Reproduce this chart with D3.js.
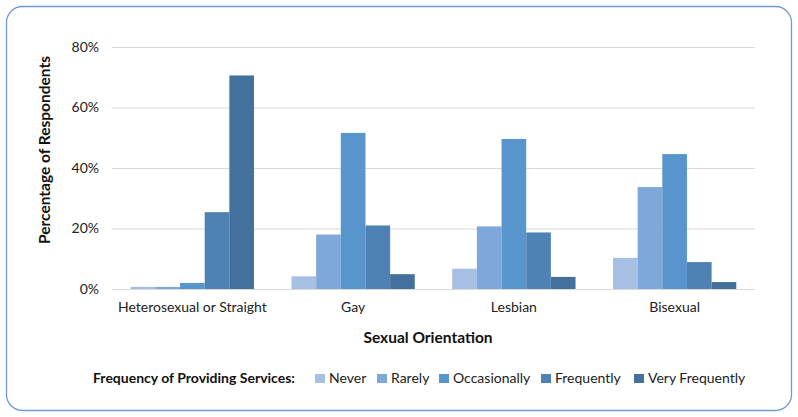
<!DOCTYPE html>
<html>
<head>
<meta charset="utf-8">
<script src="https://cdn.jsdelivr.net/npm/d3@7"></script>
<style>
  body { margin: 0; background: #fff; }
  svg { display: block; font-family: Lato, "Noto Sans", sans-serif; }
</style>
</head>
<body>
<div id="chart"></div>
<script>
const orientations = ["Heterosexual or Straight", "Gay", "Lesbian", "Bisexual"];
const frequencies = ["Never", "Rarely", "Occasionally", "Frequently", "Very Frequently"];
const colors = ["#a5c0e3", "#7ea8d9", "#5895cd", "#4f82b4", "#44709e"];

// percentage of respondents, one array per frequency, in orientation order
const never        = [0.7, 4.2, 6.7, 10.3];
const rarely       = [0.7, 18.0, 20.7, 33.7];
const occasionally = [2.0, 51.6, 49.6, 44.6];
const frequently   = [25.4, 21.0, 18.7, 8.9];
const veryFreq     = [70.6, 4.9, 4.0, 2.3];

const yTicks = [0, 20, 40, 60, 80];

const seriesValues = [never, rarely, occasionally, frequently, veryFreq];

const width = 798, height = 417;
const margin = { top: 47, right: 43, bottom: 128, left: 112 };
const innerW = width - margin.left - margin.right;
const innerH = height - margin.top - margin.bottom;

const svg = d3.select("#chart")
    .append("svg")
    .attr("width", width)
    .attr("height", height);

// outer rounded frame
svg.append("rect")
    .attr("x", 6.5)
    .attr("y", 6.5)
    .attr("width", 785)
    .attr("height", 404)
    .attr("rx", 16)
    .attr("fill", "#fff")
    .attr("stroke", "#6f9bd3")
    .attr("stroke-width", 1.3);

const g = svg.append("g")
    .attr("transform", `translate(${margin.left},${margin.top})`);

const x0 = d3.scaleBand()
    .domain(orientations)
    .range([0, innerW])
    .paddingInner(0.233)
    .paddingOuter(0.1165);

const x1 = d3.scaleBand()
    .domain(frequencies)
    .range([0, x0.bandwidth()]);

const y = d3.scaleLinear()
    .domain([0, 80])
    .range([innerH, 0]);

const color = d3.scaleOrdinal()
    .domain(frequencies)
    .range(colors);

// gridlines
g.append("g")
    .selectAll("line")
    .data(yTicks)
    .enter()
    .append("line")
    .attr("x1", 0)
    .attr("x2", innerW)
    .attr("y1", d => y(d) + 0.5)
    .attr("y2", d => y(d) + 0.5)
    .attr("stroke", "#d9d9d9")
    .attr("stroke-width", 1);

// y axis labels
const yAxis = g.append("g")
    .call(d3.axisLeft(y).tickValues(yTicks).tickFormat(d => d + "%").tickSize(0).tickPadding(13));
yAxis.select(".domain").remove();
yAxis.selectAll("text")
    .style("font-family", "Lato, 'Noto Sans', sans-serif")
    .style("font-size", "14px")
    .attr("fill", "#222");

// bars
const rows = orientations.map((o, i) => {
    const row = { orientation: o };
    frequencies.forEach((f, j) => { row[f] = seriesValues[j][i]; });
    return row;
});

g.append("g")
    .selectAll("g")
    .data(rows)
    .enter()
    .append("g")
    .attr("transform", d => `translate(${x0(d.orientation)},0)`)
    .selectAll("rect")
    .data(d => frequencies.map(f => ({ key: f, value: d[f] })))
    .enter()
    .append("rect")
    .attr("x", d => x1(d.key))
    .attr("y", d => y(d.value))
    .attr("width", x1.bandwidth())
    .attr("height", d => y(0) - y(d.value))
    .attr("fill", d => color(d.key));

// x axis labels
const xAxis = g.append("g")
    .attr("transform", `translate(0,${innerH})`)
    .call(d3.axisBottom(x0).tickSize(0).tickPadding(13));
xAxis.select(".domain").remove();
xAxis.selectAll("text")
    .style("font-family", "Lato, 'Noto Sans', sans-serif")
    .style("font-size", "14px")
    .attr("fill", "#222");

// axis titles
svg.append("text")
    .attr("x", 428)
    .attr("y", 343)
    .attr("text-anchor", "middle")
    .style("font-size", "15.5px")
    .style("font-weight", "bold")
    .attr("fill", "#111")
    .text("Sexual Orientation");

svg.append("text")
    .attr("transform", "translate(50,150) rotate(-90)")
    .attr("text-anchor", "middle")
    .style("font-size", "15.5px")
    .style("font-weight", "bold")
    .attr("fill", "#111")
    .text("Percentage of Respondents");

// legend
const legend = svg.append("g")
    .attr("transform", "translate(0,383)");

legend.append("text")
    .attr("x", 93)
    .attr("y", 0)
    .style("font-size", "14px")
    .style("font-weight", "bold")
    .attr("fill", "#111")
    .text("Frequency of Providing Services:");

const legendX = [315, 377, 439, 541, 634];

const items = legend.selectAll("g.item")
    .data(frequencies)
    .enter()
    .append("g")
    .attr("class", "item")
    .attr("transform", (d, i) => `translate(${legendX[i]},0)`);

items.append("rect")
    .attr("x", 0)
    .attr("y", -9)
    .attr("width", 10)
    .attr("height", 9)
    .attr("fill", d => color(d));

items.append("text")
    .attr("x", 14)
    .attr("y", 0)
    .style("font-size", "14px")
    .attr("fill", "#222")
    .text(d => d);
</script>
</body>
</html>
